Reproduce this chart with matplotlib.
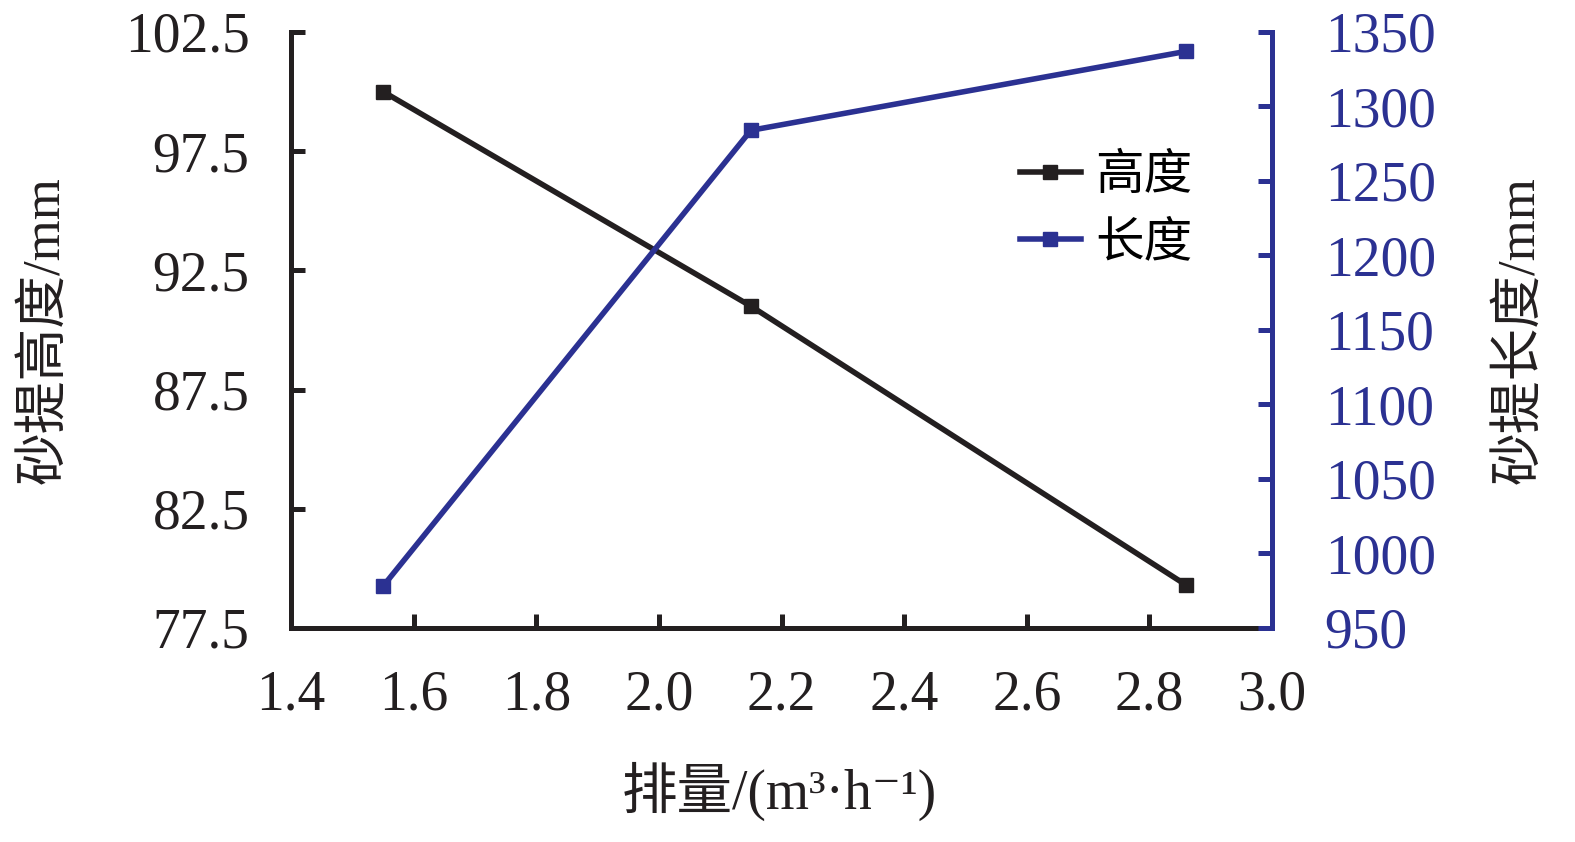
import matplotlib
matplotlib.use("Agg")
import matplotlib.pyplot as plt
import matplotlib.ticker as ticker

plt.rcParams['font.family'] = ['Liberation Serif', 'DejaVu Serif', 'Noto Sans CJK SC']

# data
flow = [1.55, 2.15, 2.86]
height = [100.0, 91.0, 79.3]
length = [978, 1284, 1337]

x_ticks = [1.4, 1.6, 1.8, 2.0, 2.2, 2.4, 2.6, 2.8, 3.0]
height_ticks = [77.5, 82.5, 87.5, 92.5, 97.5, 102.5]
length_ticks = [950, 1000, 1050, 1100, 1150, 1200, 1250, 1300, 1350]

BLUE = '#2B3192'
BLACK = '#231F20'

fig = plt.figure(figsize=(15.75, 8.42), dpi=100)
ax = fig.add_axes([0.1848, 0.2542, 0.6228, 0.7078])
ax2 = ax.twinx()

ln1, = ax.plot(flow, height, color=BLACK, lw=4, marker='s', ms=10,
               label='高度', zorder=3)
ln2, = ax2.plot(flow, length, color=BLUE, lw=4, marker='s', ms=10,
                label='长度', zorder=3)

ax.set_xlim(x_ticks[0], x_ticks[-1])
ax.set_ylim(height_ticks[0], height_ticks[-1])
ax2.set_ylim(length_ticks[0], length_ticks[-1])
ax.set_xticks(x_ticks)
ax.set_yticks(height_ticks)
ax2.set_yticks(length_ticks)
ax.xaxis.set_major_formatter(ticker.FormatStrFormatter('%.1f'))
ax.yaxis.set_major_formatter(ticker.FormatStrFormatter('%.1f'))

for a in (ax, ax2):
    a.spines['top'].set_visible(False)
ax.spines['right'].set_visible(False)
ax.spines['left'].set_linewidth(3.6)
ax.spines['bottom'].set_linewidth(3.6)
ax.spines['left'].set_color(BLACK)
ax.spines['bottom'].set_color(BLACK)
ax2.spines['left'].set_visible(False)
ax2.spines['bottom'].set_visible(False)
ax2.spines['right'].set_linewidth(3.6)
ax2.spines['right'].set_color(BLUE)

ax.tick_params(axis='both', direction='in', length=10, width=3.6,
               labelsize=40, colors=BLACK)
ax.tick_params(axis='y', pad=30)
ax.tick_params(axis='x', pad=30)
ax2.tick_params(axis='y', direction='in', length=10, width=3.6,
                labelsize=40, colors=BLUE, pad=38)

ax.set_xlabel('排量/(m³·h⁻¹)', fontsize=40, color=BLACK)
ax.xaxis.set_label_coords(0.498, -0.225)
ax.set_ylabel('砂提高度/mm', fontsize=38, color=BLACK)
ax.yaxis.set_label_coords(-0.225, 0.5)
ax2.set_ylabel('砂提长度/mm', fontsize=38, color=BLACK, rotation=90)
ax2.yaxis.set_label_coords(1.229, 0.5)

leg = ax.legend(handles=[ln1, ln2], loc='upper left',
                bbox_to_anchor=(0.743, 0.795), frameon=False, fontsize=35,
                handlelength=1.25, handletextpad=0.3, labelspacing=0.45,
                borderpad=0, borderaxespad=0)

fig.savefig('out.png', dpi=100)
